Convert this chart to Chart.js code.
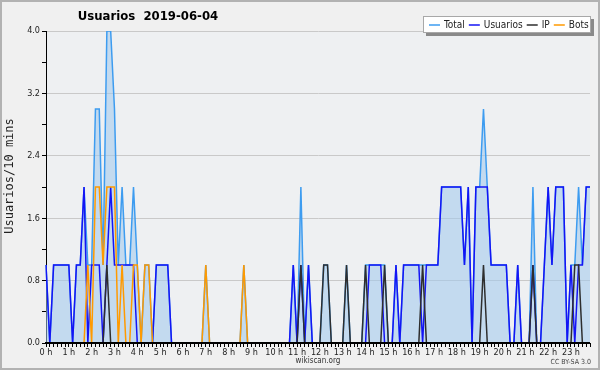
<!DOCTYPE html>
<html>
<head>
<meta charset="utf-8">
<script src="https://cdn.jsdelivr.net/npm/chart.js@4.4.0/dist/chart.umd.min.js"></script>
<style>
  html, body { margin: 0; padding: 0; background: #f0f0f0; }
  canvas { display: block; }
</style>
</head>
<body>
<canvas id="myChart" width="600" height="370"></canvas>
<script>
// hour labels on the x axis, one slot every 10 minutes
const hourLabels = ['0 h','1 h','2 h','3 h','4 h','5 h','6 h','7 h','8 h','9 h','10 h','11 h',
                    '12 h','13 h','14 h','15 h','16 h','17 h','18 h','19 h','20 h','21 h','22 h','23 h'];

// 144 values per series (each row = 2 hours)
const totalData = [
  1,0,1,1,1,1,1,0,1,1,2,1,
  1,3,3,1,4,4,3,1,2,1,1,2,
  1,0,1,1,0,1,1,1,1,0,0,0,
  0,0,0,0,0,0,1,0,0,0,0,0,
  0,0,0,0,1,0,0,0,0,0,0,0,
  0,0,0,0,0,1,0,2,0,1,0,0,
  0,1,1,0,0,0,0,1,0,0,0,0,
  1,1,1,1,1,1,0,0,1,0,1,1,
  1,1,1,1,1,1,1,1,2,2,2,2,
  2,2,1,2,0,2,2,3,2,1,1,1,
  1,1,0,0,1,0,0,0,2,0,0,1,
  2,1,2,2,2,0,1,1,2,1,2,2
];
const usersData = [
  1,0,1,1,1,1,1,0,1,1,2,0,
  1,1,1,0,1,2,1,1,1,1,1,1,
  0,0,0,0,0,1,1,1,1,0,0,0,
  0,0,0,0,0,0,0,0,0,0,0,0,
  0,0,0,0,0,0,0,0,0,0,0,0,
  0,0,0,0,0,1,0,1,0,1,0,0,
  0,0,0,0,0,0,0,0,0,0,0,0,
  0,1,1,1,1,0,0,0,1,0,1,1,
  1,1,1,0,1,1,1,1,2,2,2,2,
  2,2,1,2,0,2,2,2,2,1,1,1,
  1,1,0,0,1,0,0,0,1,0,0,1,
  2,1,2,2,2,0,1,0,1,1,2,2
];
const ipData = [
  0,0,0,0,0,0,0,0,0,0,0,0,
  0,0,0,0,1,0,0,0,0,0,0,0,
  0,0,0,0,0,0,0,0,0,0,0,0,
  0,0,0,0,0,0,0,0,0,0,0,0,
  0,0,0,0,0,0,0,0,0,0,0,0,
  0,0,0,0,0,0,0,1,0,0,0,0,
  0,1,1,0,0,0,0,1,0,0,0,0,
  1,0,0,0,0,1,0,0,0,0,0,0,
  0,0,0,1,0,0,0,0,0,0,0,0,
  0,0,0,0,0,0,0,1,0,0,0,0,
  0,0,0,0,0,0,0,0,1,0,0,0,
  0,0,0,0,0,0,0,1,1,0,0,0
];
const botsData = [
  0,0,0,0,0,0,0,0,0,0,0,1,
  0,2,2,1,2,2,2,0,1,0,0,1,
  1,0,1,1,0,0,0,0,0,0,0,0,
  0,0,0,0,0,0,1,0,0,0,0,0,
  0,0,0,0,1,0,0,0,0,0,0,0,
  0,0,0,0,0,0,0,0,0,0,0,0,
  0,0,0,0,0,0,0,0,0,0,0,0,
  0,0,0,0,0,0,0,0,0,0,0,0,
  0,0,0,0,0,0,0,0,0,0,0,0,
  0,0,0,0,0,0,0,0,0,0,0,0,
  0,0,0,0,0,0,0,0,0,0,0,0,
  0,0,0,0,0,0,0,0,0,0,0,0
];

const seriesNames = ['Total', 'Usuarios', 'IP', 'Bots'];
const seriesColors = ['#3d9cf0', '#1414f5', '#2e2e2e', '#ff9a00'];

const slots = [];
hourLabels.forEach(function(h, hi){
  for (let m = 0; m < 60; m += 10) slots.push(hi + ':' + String(m).padStart(2, '0'));
});

const FONT = "'DejaVu Sans Condensed', 'DejaVu Sans', sans-serif";
Chart.defaults.font.family = FONT;
Chart.defaults.color = '#222';

// background, frame, title, legend and credit
const decor = {
  id: 'decor',
  beforeDraw(chart) {
    const ctx = chart.ctx, a = chart.chartArea;
    ctx.save();
    ctx.fillStyle = '#f0f0f0';
    ctx.fillRect(0, 0, chart.width, chart.height);
    ctx.strokeStyle = '#b2b2b2';
    ctx.lineWidth = 2;
    ctx.strokeRect(1, 1, chart.width - 2, chart.height - 2);
    ctx.fillStyle = '#eef0f2';
    ctx.fillRect(a.left, a.top, a.right - a.left, a.bottom - a.top);
    ctx.restore();
  },
  afterDatasetsDraw(chart) {
    // zero lines sit under the black x axis
    const ctx = chart.ctx, a = chart.chartArea;
    ctx.save();
    ctx.strokeStyle = '#000';
    ctx.lineWidth = 2;
    ctx.beginPath();
    ctx.moveTo(a.left - 1, a.bottom);
    ctx.lineTo(a.right, a.bottom);
    ctx.stroke();
    ctx.restore();
  },
  afterDraw(chart) {
    const ctx = chart.ctx;
    ctx.save();
    // title
    ctx.fillStyle = '#000';
    ctx.font = "bold 13px " + FONT;
    ctx.textAlign = 'center';
    ctx.textBaseline = 'middle';
    ctx.fillText('Usuarios  2019-06-04', 148, 17);

    // y axis title, a bit above the middle like the original
    ctx.save();
    ctx.translate(10, 176);
    ctx.rotate(-Math.PI / 2);
    ctx.font = "12px 'DejaVu Sans Mono', monospace";
    ctx.fillStyle = '#222';
    ctx.fillText('Usuarios/10 mins', 0, 0);
    ctx.restore();

    // legend
    const bx = 423, by = 16, bw = 168, bh = 17;
    ctx.fillStyle = '#8a8a8a';
    ctx.fillRect(bx + 3, by + 3, bw, bh);
    ctx.fillStyle = '#fff';
    ctx.fillRect(bx, by, bw, bh);
    ctx.strokeStyle = '#a8a8a8';
    ctx.lineWidth = 1;
    ctx.strokeRect(bx + 0.5, by + 0.5, bw - 1, bh - 1);
    ctx.font = "10px " + FONT;
    ctx.textAlign = 'left';
    let x = bx + 6;
    const ty = by + bh / 2 + 0.5;
    seriesNames.forEach(function(name, i){
      ctx.strokeStyle = seriesColors[i];
      ctx.lineWidth = 1.5;
      ctx.beginPath();
      ctx.moveTo(x, ty);
      ctx.lineTo(x + 11, ty);
      ctx.stroke();
      x += 15;
      ctx.fillStyle = '#222';
      ctx.fillText(name, x, ty);
      x += ctx.measureText(name).width + 4;
    });

    // credit
    ctx.font = "7px " + FONT;
    ctx.textAlign = 'right';
    ctx.fillStyle = '#444';
    ctx.fillText('CC BY-SA 3.0', 591, 362);
    ctx.restore();
  }
};

function lineSet(i, data, order, extra) {
  return Object.assign({
    label: seriesNames[i],
    data: data,
    borderColor: seriesColors[i],
    borderWidth: 1.5,
    pointRadius: 0,
    tension: 0,
    fill: false,
    order: order
  }, extra || {});
}

const config = {
  type: 'line',
  data: {
    labels: slots,
    datasets: [
      lineSet(0, totalData, 4, { fill: 'origin', backgroundColor: 'rgba(160, 200, 236, 0.55)' }),
      lineSet(1, usersData, 3),
      lineSet(2, ipData, 2),
      lineSet(3, botsData, 1)
    ]
  },
  options: {
    responsive: false,
    animation: false,
    devicePixelRatio: 1,
    layout: { padding: { left: 2, right: 10, top: 31, bottom: 0 } },
    plugins: {
      legend: { display: false },
      title: { display: false },
      tooltip: { enabled: false }
    },
    scales: {
      x: {
        type: 'category',
        offset: false,
        afterFit: function(scale){ scale.height = 27; },
        border: { display: true, color: '#000', width: 1 },
        grid: {
          drawOnChartArea: false,
          drawTicks: true,
          tickLength: 4,
          tickColor: '#000'
        },
        ticks: {
          autoSkip: false,
          maxRotation: 0,
          minRotation: 0,
          padding: 0,
          font: { size: 9 },
          color: '#222',
          callback: function(value, index){
            return index % 6 === 0 ? hourLabels[index / 6] : '';
          }
        },
        title: {
          display: true,
          text: 'wikiscan.org',
          font: { size: 8 },
          color: '#333',
          padding: { top: 0, bottom: 4 }
        }
      },
      y: {
        min: 0,
        max: 4,
        afterFit: function(scale){ scale.width = 44; },
        border: { display: true, color: '#000', width: 1 },
        grid: {
          drawTicks: true,
          tickLength: 4,
          tickColor: '#000',
          color: function(ctx){ return (ctx.index % 2 === 0 && ctx.index > 0) ? '#c9c9c9' : 'rgba(0,0,0,0)'; }
        },
        ticks: {
          stepSize: 0.4,
          padding: 2,
          font: { size: 9 },
          color: '#222',
          callback: function(value, index){
            return index % 2 === 0 ? Number(value).toFixed(1) : '';
          }
        }
      }
    }
  },
  plugins: [decor]
};

const myChart = new Chart(document.getElementById('myChart'), config);
</script>
</body>
</html>
